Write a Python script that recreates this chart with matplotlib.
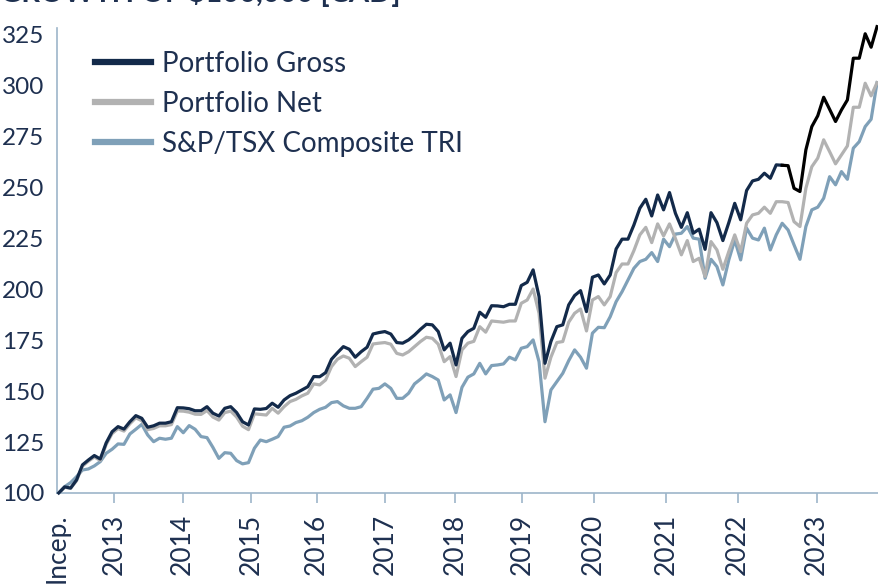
import matplotlib
matplotlib.use("Agg")
import matplotlib.pyplot as plt
import numpy as np

# Monthly growth of $100 (thousands)
gross = [100, 103, 102.4, 106.4, 113.8, 116.2, 118.4, 116.7, 124.6, 130.1,
         132.6, 131.4, 135, 138, 136.7, 132.3, 133, 134.3, 134.3, 135,
         141.9, 141.8, 141.4, 140.4, 140.4, 142.4, 139.2, 137.8, 141.6, 142.4,
         139.5, 135, 133.4, 141.3, 141.1, 141.5, 144.1, 142.1, 145.7, 147.8,
         149, 150.6, 152.2, 157.2, 157.1, 159.1, 165.7, 168.9, 171.9, 170.6,
         166.7, 169.4, 171.6, 178.1, 178.8, 179.3, 178.1, 173.9, 173.6, 175.2,
         177.6, 180.4, 182.9, 182.6, 179.3, 170.3, 173.6, 162.9, 176, 179.3,
         180.9, 188.8, 186.3, 192, 191.9, 191.5, 192.7, 192.7, 201.9, 203.5,
         209.6, 196.5, 163.7, 174.4, 181.7, 182.6, 192.4, 197, 199.4, 189.1,
         206, 207.1, 202.7, 207.1, 219.9, 224.7, 224.7, 231.7, 239.9, 244.3,
         236.1, 246.4, 239.1, 247.6, 237.4, 230.5, 237.7, 227.6, 229.6, 219.7,
         237.7, 232.8, 224, 232.8, 242.3, 234.2, 248.6, 253.3, 254.1, 257.1,
         254.6, 261.2, 261, 260.8, 249.7, 248.1, 268.6, 280, 285.3, 294.4,
         288.5, 282.5, 288.2, 293.1, 313.6, 313.6, 325.6, 319, 329.1]

net = [100, 102.8, 102.3, 106, 113.2, 115.6, 117.7, 116, 123.8, 129.2,
       131.6, 130.4, 134, 136.9, 135.5, 131.1, 131.7, 133, 133, 133.6,
       140.3, 140.2, 139.7, 138.7, 138.6, 140.5, 137.3, 135.8, 139.5, 140.2,
       137.3, 132.8, 131.1, 138.9, 138.6, 138.3, 141.6, 139.2, 142.4, 144.9,
       146, 147.7, 149, 153.6, 153.1, 155.5, 162.1, 165.7, 167.3, 166.2,
       162.1, 164.5, 166.7, 173.2, 173.6, 173.9, 173.1, 168.6, 167.8, 169.4,
       171.9, 174.4, 176.5, 176, 173.1, 164.5, 167, 157.2, 170.3, 173.6,
       174.5, 181.7, 179, 184.5, 184.2, 183.9, 184.5, 184.5, 193.2, 194.8,
       200.2, 188.3, 156.4, 166.7, 173.9, 174.4, 183.9, 188.3, 190.4, 179.6,
       194.8, 196.5, 192.4, 196.5, 208.3, 212.5, 212.5, 219.1, 226.8, 230.5,
       223, 232.2, 226.3, 232.2, 225, 217, 224, 213.7, 215.3, 206.3,
       223.5, 219.4, 209.9, 218.6, 226.8, 218.6, 232.5, 236.6, 237.4, 240.4,
       237.4, 243.1, 243.1, 242.7, 233.3, 230.9, 249.7, 260.3, 264.5, 273.5,
       267.7, 261.7, 266.1, 270.5, 289.5, 289.5, 301.3, 295.1, 301.6]

tsx = [100, 103.1, 105.1, 108, 111.3, 111.8, 113.3, 115.4, 119.5, 121.5,
       124.1, 123.9, 129, 131.3, 133.7, 128.5, 125.2, 126.9, 126.4, 126.9,
       132.6, 129.6, 133.1, 131.3, 127.7, 127.2, 122.4, 117, 119.8, 119.5,
       115.9, 114.3, 114.9, 122, 126, 125.2, 126.4, 127.7, 132.3, 132.9,
       134.6, 135.5, 137.2, 139.5, 141.1, 142.1, 144.4, 144.9, 142.8, 141.6,
       141.6, 142.4, 146.5, 151, 151.4, 153.6, 151.4, 146.5, 146.5, 149,
       153.6, 155.9, 158.5, 157.2, 155.5, 145.7, 148.2, 139.5, 151.9, 156.9,
       158.5, 163.7, 158.5, 162.6, 162.9, 163.4, 166.7, 165.4, 171.1, 171.9,
       175.2, 164.5, 135, 150.6, 154.7, 158.8, 165, 170.3, 166.7, 161.3,
       178.5, 181.4, 181.2, 186.6, 194, 198.9, 204.7, 210.4, 213.7, 214.8,
       218.1, 213.7, 224.7, 221, 227.2, 227.6, 230.9, 225.2, 224.7, 205.5,
       214.8, 211.2, 202.2, 214.5, 224.3, 214.5, 230.1, 225.2, 224.3, 230.1,
       219.4, 226.8, 232.5, 229.2, 221.9, 214.8, 230.9, 239.1, 240.4, 244.8,
       255.4, 251.4, 257.9, 254.1, 269.4, 272.6, 280, 283.6, 301.6]

tick_labels = ["Incep.", "2013", "2014", "2015", "2016", "2017", "2018",
               "2019", "2020", "2021", "2022", "2023"]
tick_pos = [-0.3, 9.4, 20.9, 32.4, 43.5, 55.1, 66.8, 78.2, 90.2, 102.4,
            114.5, 127.8]
y_ticks = [100, 125, 150, 175, 200, 225, 250, 275, 300, 325]
black_from = 122   # gross line turns black from this month on

NAVY = "#132a4a"
GREY = "#b2b2b2"
STEEL = "#7fa0b8"
AXIS = "#9db5c9"
TEXT = "#1e3050"

plt.rcParams["font.family"] = ["Lato", "DejaVu Sans"]

fig = plt.figure(figsize=(8.79, 5.88), dpi=100)
ax = fig.add_axes([0.0648, 0.1616, 0.935, 0.791])

x = np.arange(len(gross))
ax.plot(x, tsx, color=STEEL, lw=2.3, label="S&P/TSX Composite TRI", zorder=2)
ax.plot(x, net, color=GREY, lw=2.3, label="Portfolio Net", zorder=3)
ax.plot(x[:black_from + 1], gross[:black_from + 1], color=NAVY, lw=2.3,
        label="Portfolio Gross", zorder=4, clip_on=False)
ax.plot(x[black_from:], gross[black_from:], color="black", lw=2.3,
        zorder=4, clip_on=False)

ax.set_xlim(-0.3, 138.3)
ax.set_ylim(100, 328.5)
ax.set_yticks(y_ticks)
ax.set_xticks(tick_pos)
ax.set_xticklabels(tick_labels, rotation=90)

for s in ["top", "right"]:
    ax.spines[s].set_visible(False)
for s in ["left", "bottom"]:
    ax.spines[s].set_color(AXIS)
    ax.spines[s].set_linewidth(1.2)
ax.tick_params(axis="y", length=0, pad=9, labelsize=17.5, labelcolor=TEXT)
ax.tick_params(axis="x", length=7, width=1.2, color=AXIS, pad=8,
               labelsize=19, labelcolor=TEXT)
ax.get_xticklines()[0].set_visible(False)
ax.get_xticklines()[1].set_visible(False)

h, l = ax.get_legend_handles_labels()
order = [2, 1, 0]
leg = ax.legend([h[i] for i in order], [l[i] for i in order],
                loc="upper left", bbox_to_anchor=(0.016, 1.004), frameon=False,
                fontsize=20, handlelength=2.0, handletextpad=0.4,
                labelspacing=0.5, labelcolor=TEXT)
for line in leg.get_lines():
    line.set_linewidth(4.5)

fig.text(0.0, 1 - 7 / 588, "GROWTH OF $100,000 [CAD]", fontsize=21,
         fontweight="bold", color=TEXT, ha="left", va="bottom")

fig.savefig("out.png", dpi=100)
